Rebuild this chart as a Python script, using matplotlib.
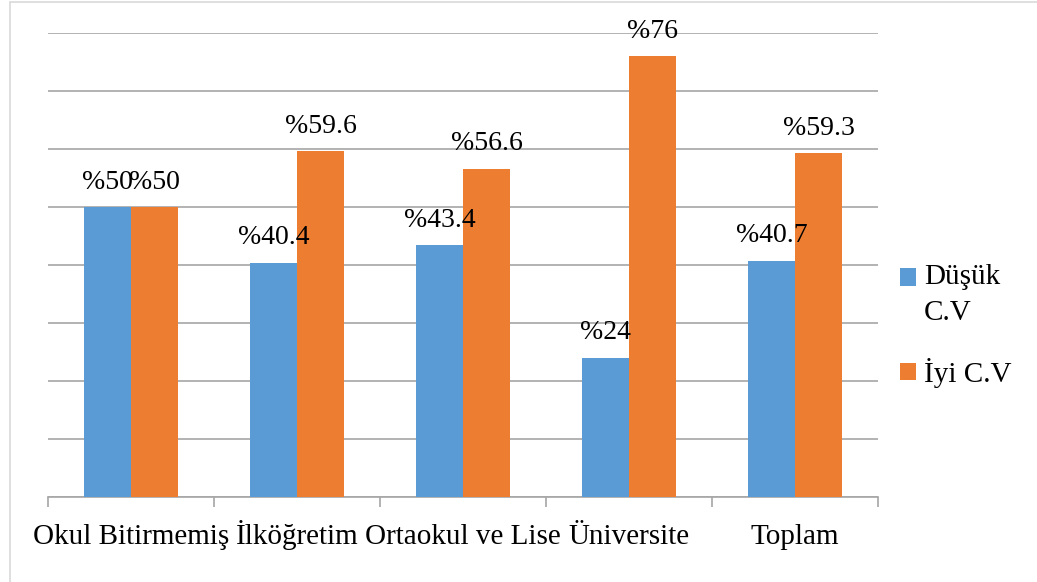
import numpy as np
import matplotlib.pyplot as plt
from matplotlib.patches import Rectangle
from matplotlib.legend_handler import HandlerPatch

categories = ["Okul Bitirmemiş", "İlköğretim", "Ortaokul ve Lise", "Üniversite", "Toplam"]
dusuk_cv = [50, 40.4, 43.4, 24, 40.7]
iyi_cv = [50, 59.6, 56.6, 76, 59.3]
series_names = ["Düşük\nC.V", "İyi C.V"]

plt.rcParams['font.family'] = ['Liberation Serif', 'DejaVu Serif']

blue = '#5B9BD5'
orange = '#ED7D31'
grid_col = '#A6A6A6'

fig = plt.figure(figsize=(10.37, 5.82), dpi=100)
ax = fig.add_axes([0.0463, 0.146, 0.8004, 0.7973])

x = np.arange(len(categories))
w = 0.283
b1 = ax.bar(x - w / 2, dusuk_cv, w, color=blue, label=series_names[0], zorder=3)
b2 = ax.bar(x + w / 2, iyi_cv, w, color=orange, label=series_names[1], zorder=3)

for bars, vals in ((b1, dusuk_cv), (b2, iyi_cv)):
    for r, v in zip(bars, vals):
        ax.annotate(f"%{v:g}", (r.get_x() + r.get_width() / 2, v),
                    xytext=(0, 18), textcoords='offset points',
                    ha='center', va='center', fontsize=20, zorder=4)

ax.set_xlim(-0.5, len(categories) - 0.5)
ax.set_ylim(0, 80)
ax.set_yticks(np.arange(0, 81, 10))
ax.yaxis.grid(True, color=grid_col, linewidth=1.2, zorder=0)
ax.tick_params(axis='y', length=0, labelleft=False)

# category labels centred, tick marks on the boundaries
ax.set_xticks(x)
ax.set_xticklabels(categories, fontsize=21)
for lbl in ax.get_xticklabels():
    lbl.set_va('baseline')
ax.set_xticks(np.arange(-0.5, len(categories)), minor=True)
ax.tick_params(axis='x', which='major', length=0, pad=34)
ax.tick_params(axis='x', which='minor', length=7, color=grid_col, width=1.2)

for s in ('left', 'right', 'top'):
    ax.spines[s].set_visible(False)
ax.spines['bottom'].set_color(grid_col)
ax.spines['bottom'].set_linewidth(1.2)


# legend key sits next to the first line of a two-line label
def top_patch(legend, orig_handle, xdescent, ydescent, width, height, fontsize):
    return Rectangle((-xdescent, -ydescent + 12.5), width, height)


h1, h2 = b1.patches[0], b2.patches[0]
leg = fig.legend(handles=[h1, h2], labels=series_names, loc='center left',
                 bbox_to_anchor=(0.843, 0.44), frameon=False, fontsize=21,
                 handlelength=0.55, handleheight=0.55, handletextpad=0.25,
                 labelspacing=1.1, handler_map={h1: HandlerPatch(patch_func=top_patch)})
for t in leg.get_texts():
    t.set_linespacing(1.5)

fig.patches.append(Rectangle((0.0095, -0.1), 1.2, 1.0965, transform=fig.transFigure,
                             fill=False, edgecolor='#D9D9D9', linewidth=1.2))

fig.savefig('out.png', dpi=100)
